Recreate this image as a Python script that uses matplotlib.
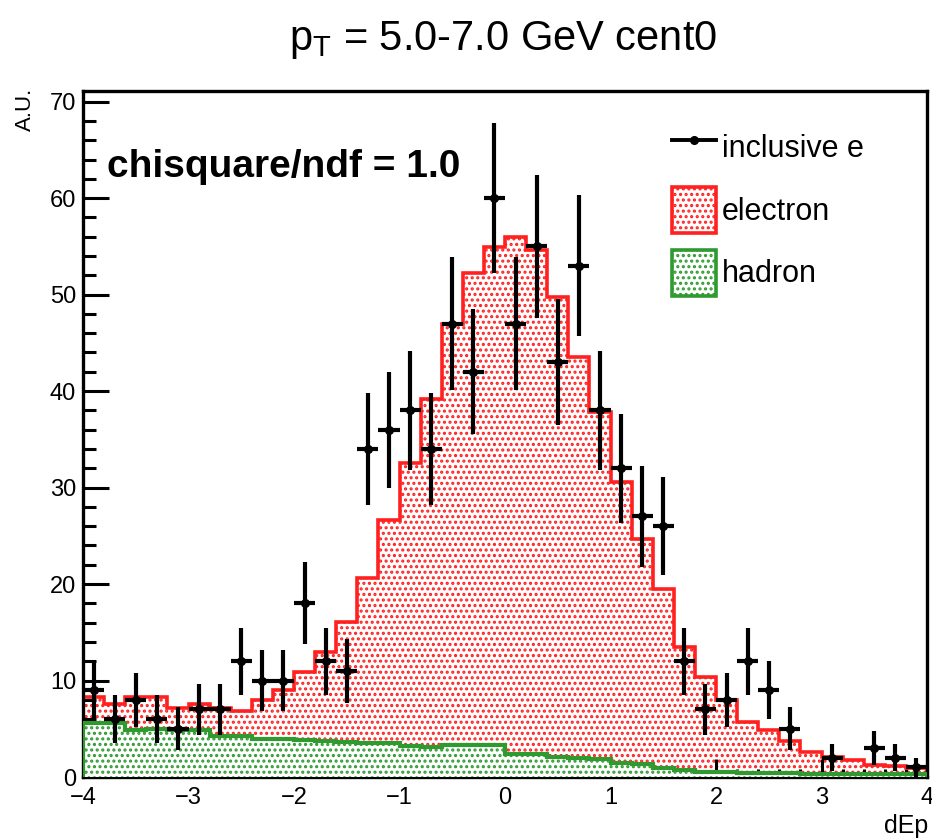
import numpy as np
import matplotlib
matplotlib.use('Agg')
import matplotlib.pyplot as plt
from matplotlib.patches import Patch
from matplotlib.lines import Line2D
from matplotlib.ticker import MultipleLocator

plt.rcParams['font.family'] = ['Liberation Sans', 'DejaVu Sans']
plt.rcParams['mathtext.fontset'] = 'custom'
plt.rcParams['mathtext.rm'] = 'Liberation Sans'
plt.rcParams['mathtext.it'] = 'Liberation Sans'
plt.rcParams['hatch.linewidth'] = 1.5

# dEp binning: 40 bins of width 0.2 between -4 and 4
bin_edges = np.linspace(-4.0, 4.0, 41)
bin_centers = 0.5 * (bin_edges[:-1] + bin_edges[1:])

# inclusive e (data counts per bin)
data_counts = [9, 6, 8, 6, 5, 7, 7, 12, 10, 10,
               18, 12, 11, 34, 36, 38, 34, 47, 42, 60,
               47, 55, 43, 53, 38, 32, 27, 26, 12, 7,
               8, 12, 9, 5, 0, 2, 0, 3, 2, 1]

# electron template (stacked on hadron -> total)
electron_total = [8.3, 7.6, 8.3, 8.3, 7.1, 7.6, 7.1, 6.8, 8.0, 9.0,
                  10.9, 13.0, 16.1, 20.6, 26.6, 32.5, 39.2, 47.0, 52.2, 54.9,
                  56.0, 54.6, 49.7, 43.5, 37.8, 30.6, 24.7, 19.5, 13.5, 10.4,
                  8.0, 5.7, 4.9, 3.7, 2.6, 2.1, 1.8, 1.2, 1.1, 0.9]

# hadron template
hadron = [5.6, 5.6, 4.9, 5.0, 4.9, 4.9, 4.2, 4.2, 3.9, 3.9,
          3.8, 3.7, 3.6, 3.5, 3.5, 3.2, 3.1, 3.3, 3.3, 3.3,
          2.4, 2.4, 2.1, 2.0, 1.9, 1.4, 1.3, 0.9, 0.7, 0.5,
          0.5, 0.4, 0.4, 0.4, 0.3, 0.3, 0.3, 0.3, 0.3, 0.3]

red = '#ff2020'
green = '#2f9a2f'

fig = plt.figure(figsize=(9.32, 8.38), dpi=100)
ax = fig.add_axes([83 / 932, 61 / 838, 844 / 932, 686 / 838])

# electron (total) histogram with dotted fill
ax.stairs(electron_total, bin_edges, baseline=0, fill=True, facecolor='white',
          edgecolor=red, hatch='...', linewidth=0, zorder=1)
ax.stairs(electron_total, bin_edges, baseline=0, color=red, linewidth=2.6, zorder=2)

# hadron histogram
ax.stairs(hadron, bin_edges, baseline=0, fill=True, facecolor='white',
          edgecolor=green, hatch='...', linewidth=0, zorder=3)
ax.stairs(hadron, bin_edges, baseline=0, color=green, linewidth=3, zorder=4)

# data points, empty bins are not drawn
counts = np.array(data_counts, dtype=float)
mask = counts > 0
ax.errorbar(bin_centers[mask], counts[mask], yerr=np.sqrt(counts[mask]), xerr=0.1,
            fmt='o', color='black', ms=5.5, elinewidth=3, capsize=0, zorder=5)

ax.set_xlim(-4, 4)
ax.set_ylim(0, 71.1)
ax.xaxis.set_major_locator(MultipleLocator(1))
ax.xaxis.set_minor_locator(MultipleLocator(0.2))
ax.yaxis.set_major_locator(MultipleLocator(10))
ax.yaxis.set_minor_locator(MultipleLocator(2))
ax.tick_params(which='both', direction='in', top=False, right=False, width=2.2,
               labelsize=17)
ax.tick_params(axis='y', which='major', length=19, pad=5)
ax.tick_params(axis='y', which='minor', length=9.5)
ax.tick_params(axis='x', which='major', length=13, pad=7)
ax.tick_params(axis='x', which='minor', length=6)
for sp in ax.spines.values():
    sp.set_linewidth(2.4)

fig.text(503 / 932, 1 - 50 / 838, r'$\mathregular{p_{T}}$ = 5.0-7.0 GeV cent0',
         ha='center', va='baseline', fontsize=30)
fig.text(25 / 932, 1 - 88 / 838, 'A.U.', rotation=90, ha='center', va='top', fontsize=16)
fig.text(928 / 932, 1 - 833 / 838, 'dEp', ha='right', va='baseline', fontsize=18)

ax.text(0.0284, 0.8746, 'chisquare/ndf = 1.0', transform=ax.transAxes,
        fontsize=28, fontweight='bold', ha='left', va='baseline')

handles = [
    Line2D([], [], color='black', marker='o', ms=5.5, lw=2.8),
    Patch(facecolor='white', edgecolor=red, hatch='...', linewidth=2.6),
    Patch(facecolor='white', edgecolor=green, hatch='...', linewidth=2.6),
]
ax.legend(handles, ['inclusive e', 'electron', 'hadron'], loc='upper left',
          bbox_to_anchor=(0.698, 0.952), frameon=False, fontsize=22,
          handlelength=1.44, handleheight=1.93, handletextpad=0.2,
          labelspacing=0.56, borderpad=0, borderaxespad=0)

fig.savefig('out.png', dpi=100)
